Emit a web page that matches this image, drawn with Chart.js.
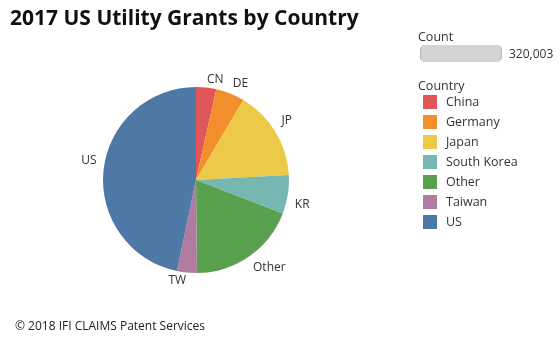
<!DOCTYPE html>
<html>
<head>
<meta charset="utf-8">
<script src="https://cdn.jsdelivr.net/npm/chart.js@4"></script>
<style>
  body { margin: 0; background: #fff; font-family: "Open Sans", sans-serif; color: #333; }
  #wrap { position: relative; width: 560px; height: 340px; }
  #title { position: absolute; left: 10px; top: 3px; font: bold 21px "Open Sans", sans-serif; color: #111; white-space: nowrap; }
  #foot { position: absolute; left: 15px; top: 317px; font-size: 12px; color: #222; }
  .lgtitle { position: absolute; left: 418px; font-size: 12.5px; color: #333; }
  #pill { position: absolute; left: 420px; top: 45px; width: 80px; height: 17px; background: #d4d4d4;
          border-left: 1px solid #b5b5b5; border-right: 1px solid #b5b5b5; border-radius: 5px; }
  #total { position: absolute; left: 509px; top: 45px; font-size: 12px; color: #333; }
  .item { position: absolute; left: 423px; height: 14px; font-size: 12.5px; white-space: nowrap; }
  .item span.sw { position: absolute; left: 0; top: 0; width: 14px; height: 14px; }
  .item span.tx { position: absolute; left: 23px; top: -2px; }
</style>
</head>
<body>
<div id="wrap">
  <canvas id="pie" width="560" height="340"></canvas>
  <div id="title">2017 US Utility Grants by Country</div>
  <div class="lgtitle" style="top:28px">Count</div>
  <div id="pill"></div>
  <div id="total"></div>
  <div class="lgtitle" style="top:77px">Country</div>
  <div id="legend"></div>
  <div id="foot">© 2018 IFI CLAIMS Patent Services</div>
</div>
<script>
const countries = ['China', 'Germany', 'Japan', 'South Korea', 'Other', 'Taiwan', 'US'];
const codes = ['CN', 'DE', 'JP', 'KR', 'Other', 'TW', 'US'];
const grants = [11200, 16000, 50000, 21500, 60800, 11000, 149503];
const colors = ['#e15759', '#f28e2b', '#edc948', '#76b7b2', '#59a14f', '#b07aa1', '#4e79a7'];

const total = grants.reduce((a, b) => a + b, 0);
document.getElementById('total').textContent = total.toLocaleString('en-US');

const legend = document.getElementById('legend');
countries.forEach((c, i) => {
  const d = document.createElement('div');
  d.className = 'item';
  d.style.top = (95 + i * 20) + 'px';
  d.innerHTML = '<span class="sw" style="background:' + colors[i] + '"></span><span class="tx">' + c + '</span>';
  legend.appendChild(d);
});

// slice labels outside the pie, nudged away from the horizontal middle
const sliceLabels = {
  id: 'sliceLabels',
  afterDatasetsDraw(chart) {
    const ctx = chart.ctx;
    const meta = chart.getDatasetMeta(0);
    ctx.save();
    ctx.font = '12px "Open Sans", sans-serif';
    ctx.fillStyle = '#333';
    ctx.textBaseline = 'middle';
    meta.data.forEach((arc, i) => {
      const p = arc.getProps(['x', 'y', 'startAngle', 'endAngle', 'outerRadius'], true);
      const mid = (p.startAngle + p.endAngle) / 2;
      const r = p.outerRadius + 7;
      const c = Math.cos(mid), s = Math.sin(mid);
      const x = p.x + c * r;
      const y = p.y + s * r + 9 * Math.sign(s) * Math.abs(c);
      ctx.textAlign = c >= 0 ? 'left' : 'right';
      ctx.fillText(codes[i], x, y);
    });
    ctx.restore();
  }
};

new Chart(document.getElementById('pie'), {
  type: 'pie',
  data: {
    labels: countries,
    datasets: [{
      data: grants,
      backgroundColor: colors,
      borderWidth: 0
    }]
  },
  options: {
    responsive: false,
    animation: false,
    layout: { padding: { left: 103, right: 271, top: 87, bottom: 67 } },
    plugins: {
      legend: { display: false },
      tooltip: { enabled: false }
    }
  },
  plugins: [sliceLabels]
});
</script>
</body>
</html>
